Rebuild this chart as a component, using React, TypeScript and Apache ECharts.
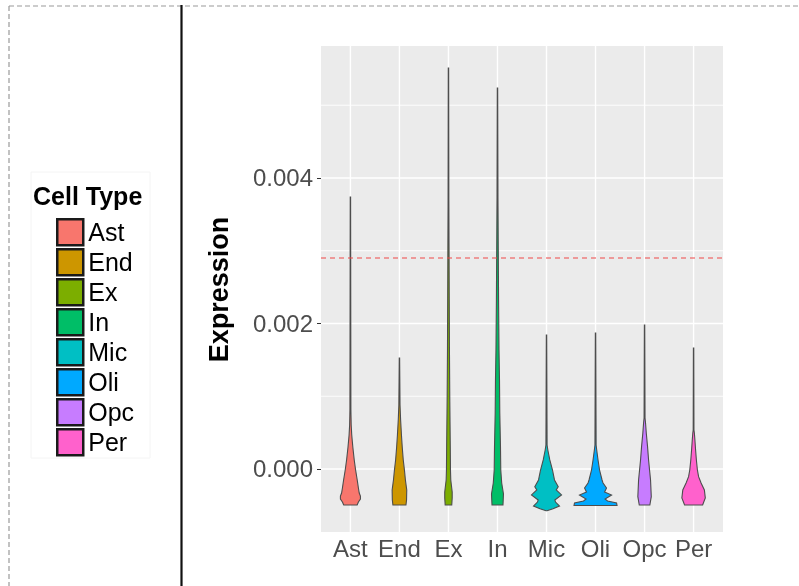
import React, { useEffect, useRef } from 'react';
import * as echarts from 'echarts';

const FONT = '"Liberation Sans", Arial, Helvetica, sans-serif';

const categories = ['Ast', 'End', 'Ex', 'In', 'Mic', 'Oli', 'Opc', 'Per'];
const colors = ['#F8766D', '#CD9600', '#7CAE00', '#00BE67', '#00BFC4', '#00A9FF', '#C77CFF', '#FF61CC'];

const yTickValues = [0, 0.002, 0.004];
const yMinorValues = [0.001, 0.003, 0.005];
const yMin = -0.000866;
const yMax = 0.005814;
const threshold = 0.0029;

// violin outlines: expression values (x 1e-3) and half-widths (category units)
const SCALE = 1e-3;
const astY = [-0.495, -0.454, -0.412, -0.371, -0.33, -0.261, -0.151, -0.014, 0.124, 0.302, 0.467, 0.605, 0.811, 3.739];
const astW = [0.137, 0.163, 0.204, 0.204, 0.18, 0.163, 0.139, 0.106, 0.078, 0.049, 0.027, 0.016, 0.01, 0.004];
const endY = [-0.495, -0.426, -0.289, -0.151, -0.014, 0.124, 0.302, 0.467, 0.674, 0.88, 1.526];
const endW = [0.133, 0.145, 0.149, 0.122, 0.102, 0.078, 0.057, 0.041, 0.024, 0.012, 0.004];
const exY = [-0.495, -0.399, -0.316, -0.151, -0.014, 0.302, 0.948, 1.636, 2.323, 3.01, 3.698, 5.512];
const exW = [0.067, 0.076, 0.076, 0.047, 0.041, 0.037, 0.027, 0.02, 0.016, 0.012, 0.008, 0.004];
const inY = [-0.495, -0.344, -0.192, -0.014, 0.302, 0.77, 1.223, 1.636, 2.323, 3.01, 3.698, 5.237];
const inW = [0.112, 0.122, 0.086, 0.067, 0.061, 0.047, 0.041, 0.031, 0.022, 0.016, 0.01, 0.004];
const micY = [-0.573, -0.546, -0.509, -0.454, -0.426, -0.357, -0.289, -0.243, -0.151, -0.014, 0.124, 0.261, 0.33, 1.842];
const micW = [0.01, 0.133, 0.265, 0.184, 0.17, 0.306, 0.198, 0.239, 0.163, 0.122, 0.067, 0.027, 0.012, 0.004];
const oliY = [-0.502, -0.467, -0.44, -0.412, -0.357, -0.316, -0.261, -0.192, -0.151, -0.014, 0.124, 0.261, 0.33, 1.869];
const oliW = [0.439, 0.429, 0.245, 0.194, 0.327, 0.184, 0.224, 0.153, 0.133, 0.082, 0.051, 0.024, 0.012, 0.004];
const opcY = [-0.495, -0.381, -0.151, -0.014, 0.124, 0.307, 0.495, 0.632, 0.701, 1.979];
const opcW = [0.108, 0.137, 0.122, 0.102, 0.082, 0.061, 0.035, 0.02, 0.01, 0.004];
const perY = [-0.495, -0.399, -0.289, -0.192, -0.106, -0.014, 0.124, 0.261, 0.399, 0.495, 0.536, 1.663];
const perW = [0.184, 0.239, 0.22, 0.153, 0.102, 0.078, 0.057, 0.041, 0.027, 0.016, 0.008, 0.004];

const profiles = [
  { y: astY, w: astW },
  { y: endY, w: endW },
  { y: exY, w: exW },
  { y: inY, w: inW },
  { y: micY, w: micW },
  { y: oliY, w: oliW },
  { y: opcY, w: opcW },
  { y: perY, w: perW },
];

export default function App() {
  const ref = useRef<HTMLDivElement>(null);

  useEffect(() => {
    if (!ref.current) return;
    const chart = echarts.init(ref.current, null, { renderer: 'svg' });
    const catPositions = categories.map((_, i) => i + 1);

    const gridSeries: any = {
      type: 'custom',
      name: '__grid',
      silent: true,
      z: 1,
      data: [[1, 0]],
      renderItem: (params: any, api: any) => {
        const cs = params.coordSys;
        const children: any[] = [];
        yMinorValues.forEach((v) => {
          const y = api.coord([1, v])[1];
          children.push({ type: 'line', shape: { x1: cs.x, y1: y, x2: cs.x + cs.width, y2: y }, style: { stroke: '#ffffff', lineWidth: 0.9 } });
        });
        yTickValues.forEach((v) => {
          const y = api.coord([1, v])[1];
          children.push({ type: 'line', shape: { x1: cs.x, y1: y, x2: cs.x + cs.width, y2: y }, style: { stroke: '#ffffff', lineWidth: 1.4 } });
        });
        catPositions.forEach((c) => {
          const x = api.coord([c, 0])[0];
          children.push({ type: 'line', shape: { x1: x, y1: cs.y, x2: x, y2: cs.y + cs.height }, style: { stroke: '#ffffff', lineWidth: 1.4 } });
        });
        return { type: 'group', children };
      },
    };

    const violinSeries: any[] = categories.map((name, i) => ({
      type: 'custom',
      name,
      z: 3,
      itemStyle: { color: colors[i] },
      data: [[i + 1, 0]],
      renderItem: (_params: any, api: any) => {
        const prof = profiles[i];
        const cx = i + 1;
        const right = prof.y.map((v, k) => api.coord([cx + prof.w[k], v * SCALE]));
        const left = prof.y.map((v, k) => api.coord([cx - prof.w[k], v * SCALE])).reverse();
        return {
          type: 'polygon',
          shape: { points: right.concat(left) },
          style: { fill: colors[i], stroke: '#4d4d4d', lineWidth: 1.1 },
        };
      },
    }));

    const thresholdSeries: any = {
      type: 'custom',
      name: '__threshold',
      silent: true,
      z: 5,
      data: [[1, threshold]],
      renderItem: (params: any, api: any) => {
        const cs = params.coordSys;
        const y = api.coord([1, threshold])[1];
        return {
          type: 'line',
          shape: { x1: cs.x, y1: y, x2: cs.x + cs.width, y2: y },
          style: { stroke: '#F04848', lineWidth: 1.2, lineDash: [5, 4] },
        };
      },
    };

    const option: any = {
      animation: false,
      color: colors,
      grid: {
        left: 321,
        top: 46,
        width: 402,
        height: 486,
        show: true,
        backgroundColor: '#EBEBEB',
        borderWidth: 0,
        containLabel: false,
        outerBoundsMode: 'none',
      },
      xAxis: {
        type: 'value',
        min: 0.4,
        max: 8.6,
        axisLine: { show: false },
        splitLine: { show: false },
        axisTick: { show: true, length: 4, customValues: catPositions, lineStyle: { color: '#333333', width: 1 } },
        axisLabel: {
          customValues: catPositions,
          formatter: (v: number) => categories[Math.round(v) - 1] ?? '',
          fontSize: 24,
          fontFamily: FONT,
          color: '#4D4D4D',
          margin: 4,
        },
      },
      yAxis: {
        type: 'value',
        min: yMin,
        max: yMax,
        axisLine: { show: false },
        splitLine: { show: false },
        axisTick: { show: true, length: 4, customValues: yTickValues, lineStyle: { color: '#333333', width: 1 } },
        axisLabel: {
          customValues: yTickValues,
          formatter: (v: number) => v.toFixed(3),
          fontSize: 24,
          fontFamily: FONT,
          color: '#4D4D4D',
          margin: 8,
        },
      },
      legend: {
        orient: 'vertical',
        left: 56,
        top: 218,
        padding: 0,
        itemWidth: 26,
        itemHeight: 26,
        itemGap: 1.5,
        icon: 'rect',
        selectedMode: false,
        data: categories,
        itemStyle: { borderColor: '#1a1a1a', borderWidth: 2.5 },
        textStyle: { fontSize: 25, color: '#000000', fontFamily: FONT, lineHeight: 25 },
      },
      graphic: [
        { type: 'line', silent: true, shape: { x1: 9, y1: 6, x2: 799, y2: 6 }, style: { stroke: '#9a9a9a', lineWidth: 1.2, lineDash: [5, 3] } },
        { type: 'line', silent: true, shape: { x1: 9, y1: 6, x2: 9, y2: 586 }, style: { stroke: '#9a9a9a', lineWidth: 1.2, lineDash: [5, 3] } },
        { type: 'line', silent: true, shape: { x1: 181.5, y1: 5, x2: 181.5, y2: 586 }, style: { stroke: '#111111', lineWidth: 2.2 } },
        { type: 'rect', silent: true, shape: { x: 31, y: 172, width: 119, height: 286 }, style: { fill: 'none', stroke: '#f4f4f4', lineWidth: 1 } },
        {
          type: 'text',
          silent: true,
          x: 33,
          y: 196,
          style: { text: 'Cell Type', font: `bold 25px ${FONT}`, fill: '#000000', align: 'left', verticalAlign: 'middle' },
        },
        {
          type: 'text',
          silent: true,
          x: 219,
          y: 289.5,
          rotation: Math.PI / 2,
          style: { text: 'Expression', font: `bold 27px ${FONT}`, fill: '#000000', align: 'center', verticalAlign: 'middle' },
        },
      ],
      series: [gridSeries, ...violinSeries, thresholdSeries],
    };

    chart.setOption(option);
    return () => chart.dispose();
  }, []);

  return <div ref={ref} style={{ position: 'fixed', left: 0, top: 0, width: 799, height: 586 }} />;
}
